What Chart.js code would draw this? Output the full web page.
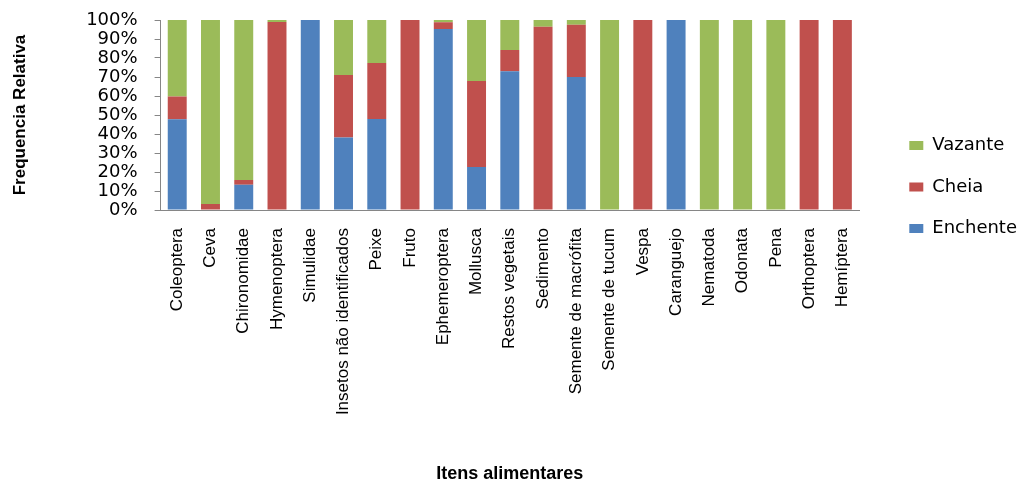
<!DOCTYPE html>
<html>
<head>
<meta charset="utf-8">
<script src="https://cdn.jsdelivr.net/npm/chart.js@4/dist/chart.umd.min.js"></script>
<style>
  html, body { margin: 0; padding: 0; background: #fff; }
</style>
</head>
<body>
<canvas id="dietChart" width="1027" height="483"></canvas>
<script>
const categories = [
  "Coleoptera", "Ceva", "Chironomidae", "Hymenoptera", "Simulidae",
  "Insetos não identificados", "Peixe", "Fruto", "Ephemeroptera", "Mollusca",
  "Restos vegetais", "Sedimento", "Semente de macrófita", "Semente de tucum",
  "Vespa", "Caranguejo", "Nematoda", "Odonata", "Pena", "Orthoptera", "Hemíptera",
];
const enchente = [47.7, 0, 13.3, 0, 100, 38.2, 47.9, 0, 95.3, 22.6, 73.0, 0, 70.0, 0, 0, 100, 0, 0, 0, 0, 0];
const cheia = [12.1, 3.2, 2.5, 98.9, 0, 32.9, 29.5, 100, 3.5, 45.3, 11.2, 96.5, 27.5, 0, 100, 0, 0, 0, 0, 100, 100];
const vazante = [40.2, 96.8, 84.2, 1.1, 0, 28.9, 22.6, 0, 1.2, 32.1, 15.8, 3.5, 2.5, 100, 0, 0, 100, 100, 100, 0, 0];
const yTicks = [0, 10, 20, 30, 40, 50, 60, 70, 80, 90, 100];

const axisGrey = "#868686";

const canvas = document.querySelector("#dietChart");
const dietChart = new Chart(canvas, {
  type: "bar",
  data: {
    labels: categories,
    datasets: [
      { label: "Enchente", data: enchente, backgroundColor: "#4F81BD" },
      { label: "Cheia", data: cheia, backgroundColor: "#C0504D" },
      { label: "Vazante", data: vazante, backgroundColor: "#9BBB59" },
    ],
  },
  options: {
    responsive: false,
    animation: false,
    layout: { padding: { top: 20, left: 0, right: 0, bottom: 0 } },
    datasets: {
      bar: { barPercentage: 0.57, categoryPercentage: 1, borderWidth: 0 },
    },
    scales: {
      x: {
        stacked: true,
        grid: { display: false, drawTicks: false },
        border: { color: axisGrey, width: 1 },
        ticks: {
          autoSkip: false,
          maxRotation: 90,
          minRotation: 90,
          padding: 18,
          color: "#000",
          font: { family: "Liberation Sans", size: 17 },
        },
        title: {
          display: true,
          text: "Itens alimentares",
          color: "#000",
          padding: { top: 0, bottom: 0 },
          font: { family: "Liberation Sans", size: 18, weight: "bold", lineHeight: 1 },
        },
        afterFit: (scale) => {
          scale.height = 273;
        },
      },
      y: {
        stacked: true,
        min: 0,
        max: 100,
        afterBuildTicks: (scale) => {
          scale.ticks = yTicks.map((v) => ({ value: v }));
        },
        grid: {
          drawOnChartArea: false,
          drawTicks: true,
          tickLength: 6,
          color: axisGrey,
        },
        border: { color: axisGrey, width: 1 },
        ticks: {
          autoSkip: false,
          padding: 17,
          color: "#000",
          font: { family: "DejaVu Sans", size: 18 },
          callback: (v) => v + "%",
        },
        title: {
          display: true,
          text: "Frequencia Relativa",
          color: "#000",
          padding: { top: 10, bottom: 0 },
          font: { family: "Liberation Sans", size: 17, weight: "bold", lineHeight: 1.2 },
        },
        afterFit: (scale) => {
          scale.width = 160.6;
          scale.paddingTop = 0;
          scale.paddingBottom = 0;
        },
      },
      // empty spacer on the right so the plot ends where the legend gap starts
      spacer: {
        type: "linear",
        position: "right",
        grid: { display: false, drawTicks: false },
        border: { display: false },
        ticks: { display: false },
        afterFit: (scale) => {
          scale.width = Math.max(0, scale.chart.width - 859 - scale.chart.legend.width);
        },
      },
    },
    plugins: {
      tooltip: { enabled: false },
      legend: {
        position: "right",
        align: "start",
        reverse: true,
        title: {
          display: true,
          text: "",
          padding: { top: 83, bottom: 0 },
          font: { size: 10, lineHeight: 1 },
        },
        labels: {
          boxWidth: 14,
          boxHeight: 9,
          padding: 23.5,
          color: "#000",
          font: { family: "DejaVu Sans", size: 18 },
        },
      },
    },
  },
});
</script>
</body>
</html>
